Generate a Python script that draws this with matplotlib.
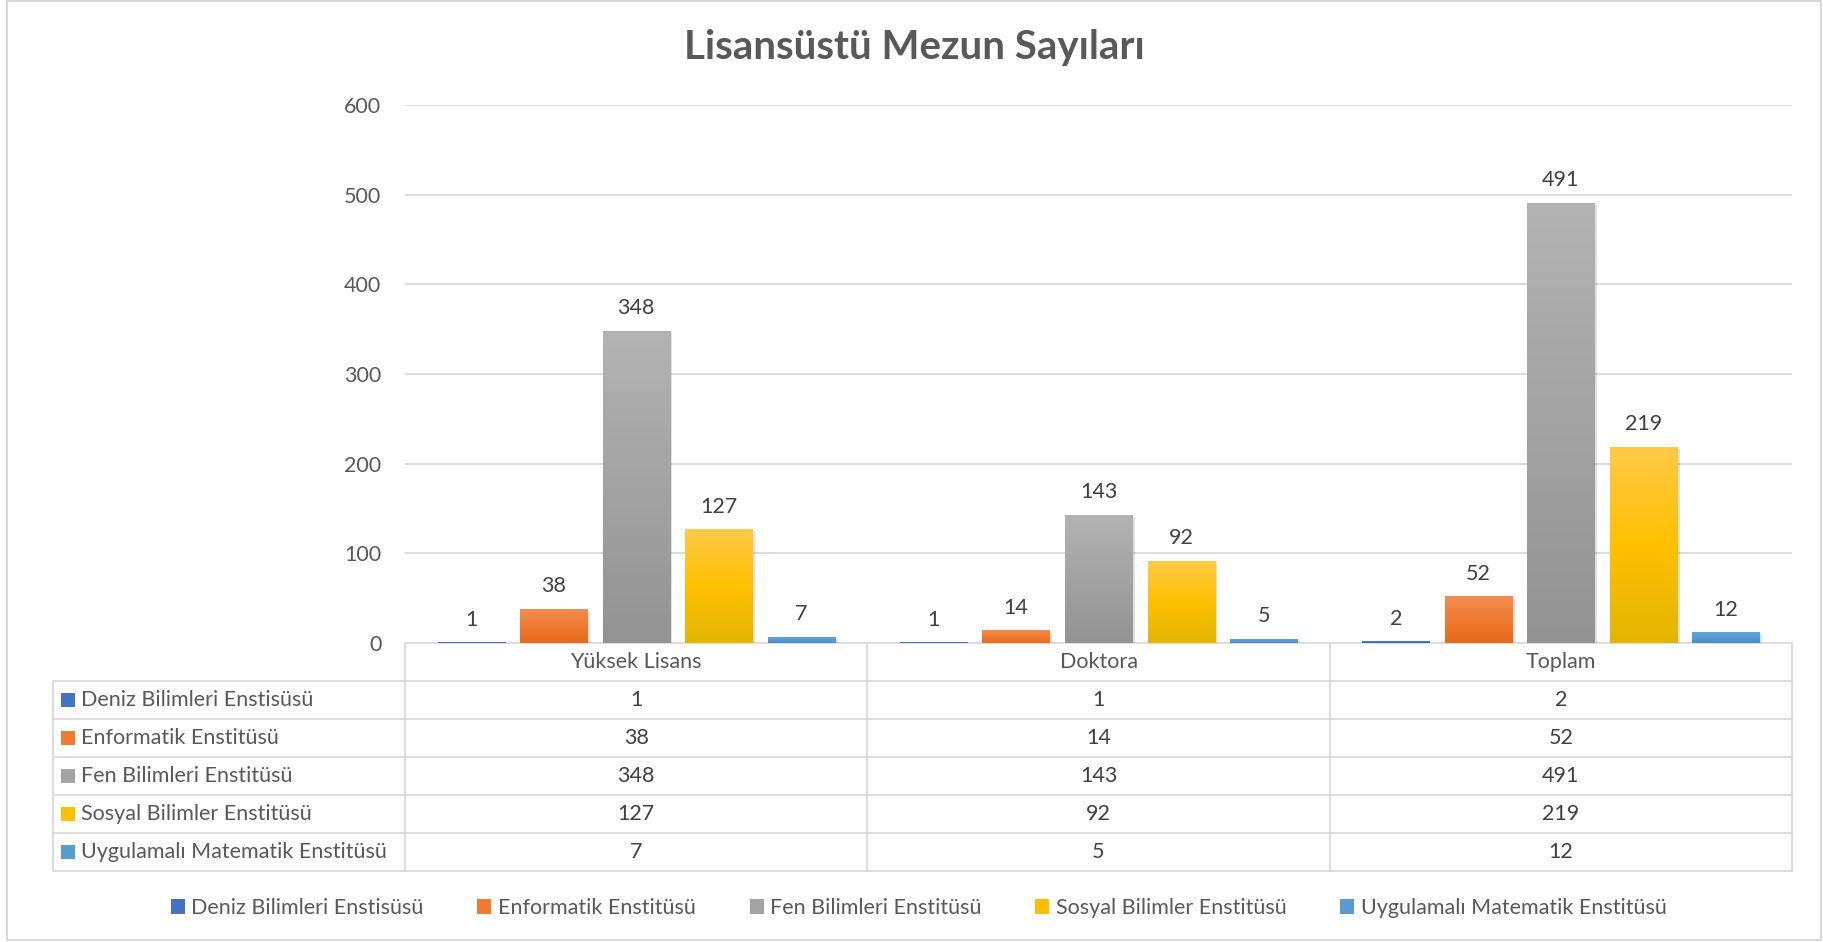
import numpy as np
import matplotlib
matplotlib.use("Agg")
import matplotlib.pyplot as plt
from matplotlib.colors import LinearSegmentedColormap
from matplotlib.patches import Rectangle
import matplotlib.patheffects as pe

plt.rcParams['font.family'] = ['Lato', 'DejaVu Sans']

# veriler
title = "Lisansüstü Mezun Sayıları"
categories = ["Yüksek Lisans", "Doktora", "Toplam"]
series_names = ["Deniz Bilimleri Enstisüsü", "Enformatik Enstitüsü",
                "Fen Bilimleri Enstitüsü", "Sosyal Bilimler Enstitüsü",
                "Uygulamalı Matematik Enstitüsü"]
deniz = [1, 1, 2]
enformatik = [38, 14, 52]
fen = [348, 143, 491]
sosyal = [127, 92, 219]
uygulamali = [7, 5, 12]
series_values = [deniz, enformatik, fen, sosyal, uygulamali]
y_ticks = [0, 100, 200, 300, 400, 500, 600]

# renkler (ust, orta, alt)
gradients = [
    ["#5081D4", "#4472C4", "#3462B8"],
    ["#F28D52", "#F07A30", "#E56B1A"],
    ["#B3B3B3", "#A3A3A3", "#939393"],
    ["#FFCA47", "#FFC000", "#E3B500"],
    ["#62A2DA", "#5B9BD5", "#4A8CCB"],
]
base_colors = [g[1] for g in gradients]

W, H = 1823, 942
PL, PR, PT, PB = 405, 1792, 105, 643

fig = plt.figure(figsize=(W / 100, H / 100), dpi=100)
ax = fig.add_axes([PL / W, 1 - PB / H, (PR - PL) / W, (PB - PT) / H])

x = np.arange(len(categories))
n = len(series_values)
step = 0.1786
bar_w = 0.145

for i, (vals, grad) in enumerate(zip(series_values, gradients)):
    pos = x + (i - (n - 1) / 2) * step
    bars = ax.bar(pos, vals, width=bar_w, color=grad[1], zorder=3,
                  label=series_names[i])
    cmap = LinearSegmentedColormap.from_list("g%d" % i, grad[::-1])
    grad_img = np.linspace(0, 1, 256).reshape(-1, 1)
    for b in bars:
        b.set_path_effects([pe.SimplePatchShadow(offset=(2, -1.5), alpha=0.12,
                                                 shadow_rgbFace="#000000"),
                            pe.Normal()])
        bx, by = b.get_x(), b.get_y()
        im = ax.imshow(grad_img, cmap=cmap, origin="lower", aspect="auto",
                       extent=(bx, bx + b.get_width(), by, by + b.get_height()),
                       zorder=4)
        im.set_clip_path(b)
    ax.bar_label(bars, labels=[str(v) for v in vals], padding=9,
                 fontsize=15.5, color="#404040", zorder=5)

ax.set_xlim(-0.5, len(categories) - 0.5)
ax.set_ylim(0, 600)
ax.set_yticks(y_ticks)
ax.set_yticklabels([str(t) for t in y_ticks])
ax.set_xticks([])
ax.tick_params(axis="y", length=0, pad=17, labelsize=15.5, labelcolor="#595959")
ax.grid(axis="y", color="#D9D9D9", linewidth=1.3, zorder=0)
for s in ["top", "right", "left", "bottom"]:
    ax.spines[s].set_visible(False)

# tablo ve cerceve
ov = fig.add_axes([0, 0, 1, 1], zorder=-1)
ov.set_xlim(0, W)
ov.set_ylim(H, 0)
ov.axis("off")
ov.add_patch(Rectangle((7, 1), W - 9, H - 3, fill=False,
                       edgecolor="#D9D9D9", linewidth=1.5))

TL = 53
row_h = 38
col_edges = np.linspace(PL, PR, len(categories) + 1)
line_kw = dict(color="#D9D9D9", linewidth=1.3)
# baslik satiri
ov.plot([PL, PR], [PB, PB], **line_kw)
for xe in col_edges:
    ov.plot([xe, xe], [PB, PB + row_h * (n + 1)], **line_kw)
for j, cat in enumerate(categories):
    ov.text((col_edges[j] + col_edges[j + 1]) / 2, PB + row_h / 2, cat,
            ha="center", va="center", fontsize=15.5, color="#595959")
for i in range(n):
    y0 = PB + row_h * (i + 1)
    ov.plot([TL, PR], [y0, y0], **line_kw)
    yc = y0 + row_h / 2
    ov.add_patch(Rectangle((61, yc - 7), 14, 14, facecolor=base_colors[i],
                           edgecolor="none"))
    ov.text(81, yc, series_names[i], ha="left", va="center", fontsize=15.5,
            color="#595959")
    for j in range(len(categories)):
        ov.text((col_edges[j] + col_edges[j + 1]) / 2, yc,
                str(series_values[i][j]), ha="center", va="center",
                fontsize=15.5, color="#404040")
ybot = PB + row_h * (n + 1)
ov.plot([TL, PR], [ybot, ybot], **line_kw)
ov.plot([TL, TL], [PB + row_h, ybot], **line_kw)

fig.text(0.5017, 1 - 47 / H, title, ha="center", va="center",
         fontsize=29, fontweight="bold", color="#595959")

handles = [Rectangle((0, 0), 1, 1, facecolor=c, edgecolor="none")
           for c in base_colors]
fig.legend(handles, series_names, loc="center", ncol=5,
           bbox_to_anchor=(0.504, 1 - 908 / H), frameon=False, fontsize=15.5,
           handlelength=0.65, handleheight=0.65, handletextpad=0.3,
           columnspacing=2.5, labelcolor="#595959")

fig.savefig("out.png", dpi=100)
